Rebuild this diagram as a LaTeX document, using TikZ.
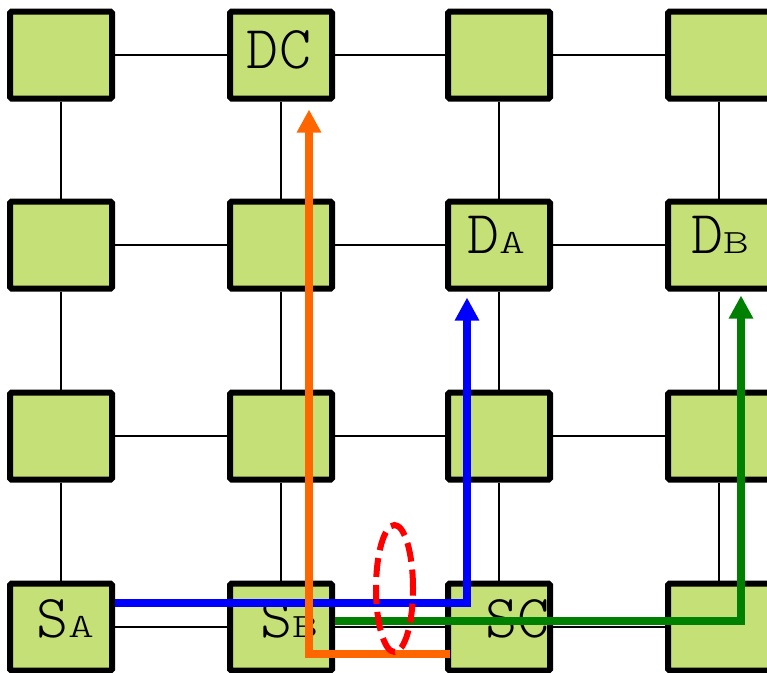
\documentclass[tikz,border=0pt]{standalone}
\usepackage{tikz}
\usetikzlibrary{arrows.meta,shapes.geometric,calc}
\definecolor{tilegreen}{RGB}{198,224,120}
\definecolor{routeorange}{RGB}{255,102,0}
\definecolor{routegreen}{RGB}{0,128,0}
\tikzset{
  tile/.style={draw,line width=6pt,fill=tilegreen,minimum width=102pt,minimum height=87pt,rounded corners=1.5pt,inner sep=0pt},
  link/.style={line width=2.5pt},
  route/.style={line width=7.5pt,-{Triangle[length=23pt,width=23pt]}},
  tag/.style={font=\ttfamily\fontseries{l}\selectfont,inner sep=0pt}
}
\newcommand{\tagtxt}[2]{{\fontsize{61}{61}\selectfont #1}{\fontsize{34}{34}\selectfont\scalebox{1.45}[1]{#2}}}

\begin{document}
\begin{tikzpicture}[x=1pt,y=-1pt]
    \clip (0,0) rectangle (767,672);
    % Draw tiles
    \foreach \r/\yy in {1/55,2/245,3/436,4/627}
      \foreach \c/\xx in {1/61,2/281,3/499,4/719}
        \node[tile] (n-\r-\c) at (\xx,\yy) {};
    % Links between tiles
    \foreach \r in {1,...,4}
      \foreach \c [count=\d from 2] in {1,2,3}
        \draw[link] (n-\r-\c) -- (n-\r-\d);
    \foreach \c in {1,...,4}
      \foreach \r [count=\d from 2] in {1,2,3}
        \draw[link] (n-\r-\c) -- (n-\d-\c);
    % Tile names
    \node[tag] (t-dc) at ([xshift=-2pt,yshift=5pt]n-1-2) {\tagtxt{DC}{}};
    \node[tag] (t-da) at ([xshift=-3pt,yshift=10pt]n-2-3) {\tagtxt{D}{A}};
    \node[tag] (t-db) at ([xshift=1pt,yshift=10pt]n-2-4) {\tagtxt{D}{B}};
    \node[tag] (t-sa) at ([xshift=4pt,yshift=8.5pt]n-4-1) {\tagtxt{S}{A}};
    \node[tag] (t-sb) at ([xshift=8pt,yshift=8.5pt]n-4-2) {\tagtxt{S}{B}};
    \node[tag] (t-sc) at ([xshift=18.5pt,yshift=8.5pt]n-4-3) {\tagtxt{SC}{}};
    % Routes
    \draw[route,blue] ([yshift=24pt]n-4-1.east) -| ([xshift=-32pt,yshift=-6pt]n-2-3.south);
    \draw[route,routegreen] ([yshift=6pt]n-4-2.east) -| ([xshift=22pt,yshift=-4pt]n-2-4.south);
    \draw[route,routeorange] ([xshift=4.5pt,yshift=-27pt]n-4-3.west) -| ([xshift=28pt,yshift=-8pt]n-1-2.south);
    % Shared link
    \node[ellipse,draw=red,dash pattern=on 19pt off 8pt,line width=6pt,minimum width=37pt,minimum height=127pt] (shared) at (394.5,588.5) {};
\end{tikzpicture}
\end{document}
